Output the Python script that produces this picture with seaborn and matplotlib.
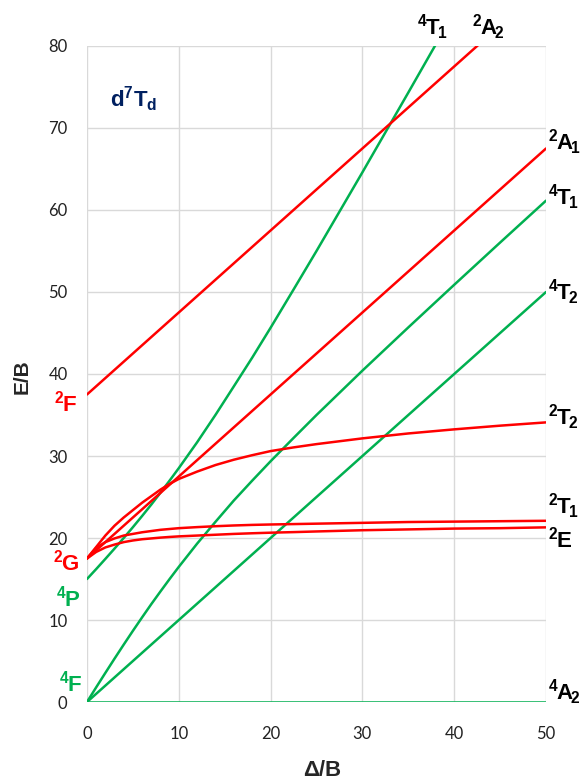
import matplotlib
matplotlib.use('Agg')
import matplotlib.pyplot as plt
from matplotlib import font_manager
import seaborn as sns
import pandas as pd

# curve data (Delta/B, E/B)
x_lines = [0, 50]
A2_4 = [0, 0]
T2_4 = [0, 50]
A1_2 = [17.5, 67.5]
A2_2 = [37.5, 87.5]

x_curve = [0, 1, 2, 3, 4, 5, 6, 7, 8, 9, 10, 12, 14, 16, 18, 20, 22.5, 25, 30, 35, 40, 45, 50]
T1F_4 = [0, 1.79, 3.55, 5.29, 7.0, 8.68, 10.32, 11.93, 13.48, 15.0, 16.48, 19.32, 21.98,
         24.58, 27.0, 29.36, 32.2, 35.0, 40.41, 45.68, 50.88, 56.03, 61.14]
T2_2 = [17.5, 18.9, 20.3, 21.5, 22.5, 23.4, 24.3, 25.1, 25.9, 26.6, 27.2, 28.1, 28.9,
        29.55, 30.1, 30.6, 31.05, 31.45, 32.15, 32.75, 33.25, 33.7, 34.1]
T1_2 = [17.5, 18.8, 19.5, 19.95, 20.3, 20.5, 20.7, 20.85, 21.0, 21.1, 21.2, 21.33, 21.44,
        21.53, 21.6, 21.65, 21.7, 21.75, 21.85, 21.95, 22.0, 22.05, 22.1]
E_2 = [17.5, 18.3, 18.85, 19.2, 19.5, 19.7, 19.85, 19.95, 20.05, 20.13, 20.2, 20.3, 20.4,
       20.5, 20.58, 20.65, 20.72, 20.8, 20.95, 21.05, 21.15, 21.2, 21.3]

x_p = [0, 1, 2, 3, 4, 5, 6, 7, 8, 9, 10, 12, 14, 16, 18, 20, 22.5, 25, 30, 35, 40]
T1P_4 = [15, 16.21, 17.45, 18.71, 20.0, 21.32, 22.68, 24.07, 25.52, 27.0, 28.52, 31.68,
         35.02, 38.5, 42.0, 45.64, 50.3, 55.0, 64.59, 74.32, 84.12]

x_ticks = [0, 10, 20, 30, 40, 50]
y_ticks = [0, 10, 20, 30, 40, 50, 60, 70, 80]

RED = '#ff0000'
GREEN = '#00b050'

rows = []
def add(name, xs, ys):
    for a, b in zip(xs, ys):
        rows.append((name, a, b))

add('4A2', x_lines, A2_4)
add('4T2', x_lines, T2_4)
add('4T1F', x_curve, T1F_4)
add('4T1P', x_p, T1P_4)
add('2A1', x_lines, A1_2)
add('2A2', x_lines, A2_2)
add('2T2', x_curve, T2_2)
add('2T1', x_curve, T1_2)
add('2E', x_curve, E_2)
df = pd.DataFrame(rows, columns=['state', 'x', 'E'])

palette = {'4A2': GREEN, '4T2': GREEN, '4T1F': GREEN, '4T1P': GREEN,
           '2A1': RED, '2A2': RED, '2T2': RED, '2T1': RED, '2E': RED}

names = [f.name for f in font_manager.fontManager.ttflist]
tick_font = 'Lato' if 'Lato' in names else 'DejaVu Sans'

sns.set_style('white')
plt.rcParams['font.family'] = [tick_font, 'DejaVu Sans']
plt.rcParams['mathtext.fontset'] = 'custom'
plt.rcParams['mathtext.rm'] = 'Liberation Sans:bold'
plt.rcParams['mathtext.it'] = 'Liberation Sans:bold'
plt.rcParams['mathtext.bf'] = 'Liberation Sans:bold'

fig = plt.figure(figsize=(5.81, 7.83), dpi=100)
ax = fig.add_axes([0.1497, 0.1034, 0.7901, 0.8379])

sns.lineplot(data=df, x='x', y='E', hue='state', palette=palette, estimator=None,
             legend=False, linewidth=1.8, ax=ax)

ax.set_xlim(0, 50)
ax.set_ylim(0, 80)
ax.set_xticks(x_ticks)
ax.set_yticks(y_ticks)
ax.grid(True, color='#d9d9d9', linewidth=1)
ax.set_axisbelow(True)
for s in ax.spines.values():
    s.set_visible(False)
ax.tick_params(axis='x', length=0, pad=17, labelsize=12, labelcolor='#222222')
ax.tick_params(axis='y', length=0, pad=14, labelsize=12, labelcolor='#222222')
ax.set_xlabel('')
ax.set_ylabel('')

fig.text(22 / 581, 1 - 377 / 783, 'E/B', rotation=90, ha='center', va='center',
         fontsize=15, fontweight='bold', family=['Liberation Sans', 'DejaVu Sans'])
fig.text(322 / 581, 1 - 771 / 783, 'Δ/B', ha='center', va='center',
         fontsize=16, fontweight='bold', family=['Liberation Sans', 'DejaVu Sans'])

lab = dict(fontsize=16, clip_on=False)


def term(mult, letter, sub=''):
    s = r'$^{%s}\hspace{-0.04}\mathrm{%s}' % (mult, letter)
    if sub:
        s += r'_{\!%s}' % sub
    return s + '$'


# right side labels
right_labels = [('2', 'A', '1', 67.3), ('4', 'T', '1', 60.6), ('4', 'T', '2', 49.0),
                ('2', 'T', '2', 33.8), ('2', 'T', '1', 23.0), ('2', 'E', '', 18.8),
                ('4', 'A', '2', 0.3)]
for m, l, sb, yv in right_labels:
    ax.text(50.2, yv, term(m, l, sb), ha='left', va='baseline', color='black', **lab)

# top labels
ax.text(35.9, 81.3, term('4', 'T', '1'), ha='left', va='baseline', color='black', **lab)
ax.text(41.9, 81.3, term('2', 'A', '2'), ha='left', va='baseline', color='black', **lab)

# free-ion terms on the left
left_labels = [('2', 'F', 35.4, RED, -1.0), ('2', 'G', 16.1, RED, -0.8),
               ('4', 'P', 11.6, GREEN, -0.65), ('4', 'F', 1.3, GREEN, -0.45)]
for m, l, yv, c, xv in left_labels:
    ax.text(xv, yv, term(m, l), ha='right', va='baseline', color=c, **lab)

ax.text(2.5, 72.6, r'$\mathrm{d}^{7}\mathrm{T}_{d}$', ha='left', va='baseline',
        color='#002060', fontsize=16)

fig.savefig('out.png', dpi=100)
